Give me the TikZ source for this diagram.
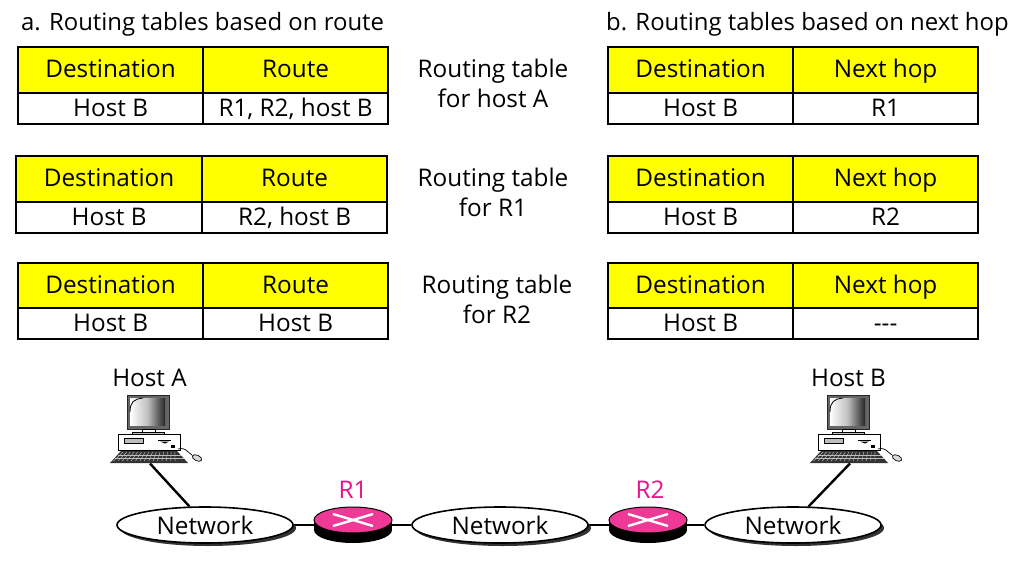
\documentclass[tikz,border=0pt]{standalone}
\usepackage{fontspec}
\setmainfont{Open Sans}
\usetikzlibrary{backgrounds,shapes.geometric}
\definecolor{rpink}{HTML}{EE3A96}
\definecolor{rtext}{HTML}{E6128A}
\definecolor{tyellow}{HTML}{FFFF00}
\tikzset{
 big/.style={font=\fontsize{24.3}{30}\selectfont},
 txt/.style={inner sep=0pt,big,align=center,text=black},
 title/.style={inner sep=0pt,font=\fontsize{23.9}{30}\selectfont,anchor=west},
 cell/.style={draw=black,line width=1.6pt,inner sep=0pt,big,anchor=north west,text height=20pt,text depth=4pt},
 hcell/.style={cell,fill=tyellow},
 bcell/.style={cell,fill=white},
 net/.style={ellipse,draw=black,line width=1.6pt,fill=white,minimum width=176pt,minimum height=36pt,inner sep=0pt,big},
 netshadow/.style={ellipse,fill=black!80,minimum width=176pt,minimum height=36pt,inner sep=0pt},
 router/.style={ellipse,draw=black,line width=1pt,fill=rpink,minimum width=78pt,minimum height=26pt,inner sep=0pt},
 routerbase/.style={ellipse,fill=black,minimum width=78pt,minimum height=26pt,inner sep=0pt},
 link/.style={draw=black,line width=2.4pt},
 rlabel/.style={inner sep=0pt,big,text=rtext},
}
\newcommand{\rtbl}[9]{% name, x0,xm,x1, ytop, ymid, ybot, col2 head, col2 body
  \node[hcell,minimum width={(#3-#2)*1pt},minimum height={(#6-#5)*1pt}] (#1h1) at (#2,#5) {Destination};
  \node[hcell,minimum width={(#4-#3)*1pt},minimum height={(#6-#5)*1pt}] (#1h2) at (#3,#5) {#8};
  \node[bcell,minimum width={(#3-#2)*1pt},minimum height={(#7-#6)*1pt}] (#1b1) at (#2,#6) {Host B};
  \node[bcell,minimum width={(#4-#3)*1pt},minimum height={(#7-#6)*1pt}] (#1b2) at (#3,#6) {#9};
}
\newcommand{\computer}[2]{%
 \begin{scope}[shift={(#2,0)}]
  \draw[black!85,line width=1pt,fill=black!60] (127,395) rectangle (169,429);
  \shade[left color=white,right color=black!85,middle color=black!25] (130,398) rectangle (165,425);
  \draw[black,line width=.8pt] (130,412) .. controls (130,402) and (134,399) .. (143,398);
  \draw[black,line width=.7pt,fill=white] (142,429) rectangle (155,432);
  \draw[black,line width=.7pt,fill=black!25] (132,432) rectangle (164,434.5);
  \draw[black,line width=.8pt,fill=white] (118,434.5) rectangle (180,450);
  \draw[black,line width=.7pt,fill=black!25] (124,438) rectangle (143,443);
  \fill[black] (158,439.5) rectangle (171,441);
  \fill[black] (160,441.5) -- (169,441.5) -- (165,443.5) -- cycle;
  \fill[black] (171,445) rectangle (175,448);
  \draw[black,line width=.7pt] (178,449) .. controls (186,447) and (187,452) .. (192,455);
  \draw[black,line width=.7pt,fill=black!15,rotate around={-25:(197,458)}] (197,458) ellipse (5 and 2.8);
  \fill[black!80] (121,451) -- (177,451) -- (188,463) -- (110,463) -- cycle;
  \foreach \k in {0,1,2,3,4,5,6,7,8,9,10,11,12,13,14}{
    \draw[white!75!black,line width=.45pt] ({123+\k*3.7},452) -- ({113.5+\k*4.4},461);
  }
  \draw[white!75!black,line width=.45pt] (118,455) -- (181,455);
  \draw[white!75!black,line width=.45pt] (115,458.5) -- (184,458.5);
  \coordinate (#1) at (150,463.5);
 \end{scope}
}
\begin{document}
\begin{tikzpicture}[x=1pt,y=-1pt]
\useasboundingbox (0,0) rectangle (1016,564);

\node[title] (ta) at (21,24) {a. Routing tables based on route};
\node[title] (tb) at (606,24) {b. Routing tables based on next hop};

\begin{scope}[xshift=-0.7pt]
\rtbl{a}{18}{203}{388}{46}{92}{123}{Route}{R1, R2, host B}
\rtbl{b}{16}{202}{387}{155}{201}{232}{Route}{R2, host B}
\rtbl{c}{18}{203}{388}{262}{307}{338}{Route}{Host B}
\rtbl{d}{608}{793}{978}{46}{92}{123}{Next hop}{R1}
\rtbl{e}{608}{793}{978}{155}{201}{232}{Next hop}{R2}
\rtbl{f}{608}{793}{978}{262}{307}{338}{Next hop}{{-}{-}{-}}
\end{scope}

\node[txt] (l1) at (493,83.5) {Routing table\\for host A};
\node[txt] (l2) at (493,192.5) {Routing table\\for R1};
\node[txt] (l3) at (497,299.5) {Routing table\\for R2};

\node[txt] (hA) at (149.5,378) {Host A};
\node[txt] (hB) at (848.5,378) {Host B};

\computer{pcA}{0}
\computer{pcB}{700}

\node[netshadow] (ns1) at (208,528) {};
\node[netshadow] (ns2) at (503,528) {};
\node[netshadow] (ns3) at (796,528) {};
\node[routerbase] (rb1) at (353,530) {};
\node[routerbase] (rb2) at (648,530) {};
\fill[black] (314,520) rectangle (392,530);
\fill[black] (609,520) rectangle (687,530);
\node[net] (n1) at (205,525) {Network};
\node[net] (n2) at (500,525) {Network};
\node[net] (n3) at (793,525) {Network};
\node[router] (r1) at (353,520) {};
\node[router] (r2) at (648,520) {};
\node[rlabel] (lr1) at (353,490) {R1};
\node[rlabel] (lr2) at (650,490) {R2};
\foreach \r in {r1,r2}{
  \draw[white,line width=2.4pt] ([shift={(-20,-6)}]\r.center) -- ([shift={(20,6)}]\r.center);
  \draw[white,line width=2.4pt] ([shift={(-20,6)}]\r.center) -- ([shift={(20,-6)}]\r.center);
}
\begin{scope}[on background layer]
\fill[white] (0,0) rectangle (1016,564);
\draw[link] (pcA) -- (n1.130);
\draw[link] (pcB) -- (n3.50);
\draw[link] (n1.east) -- (n2.west);
\draw[link] (n2.east) -- (n3.west);
\end{scope}
\end{tikzpicture}
\end{document}
